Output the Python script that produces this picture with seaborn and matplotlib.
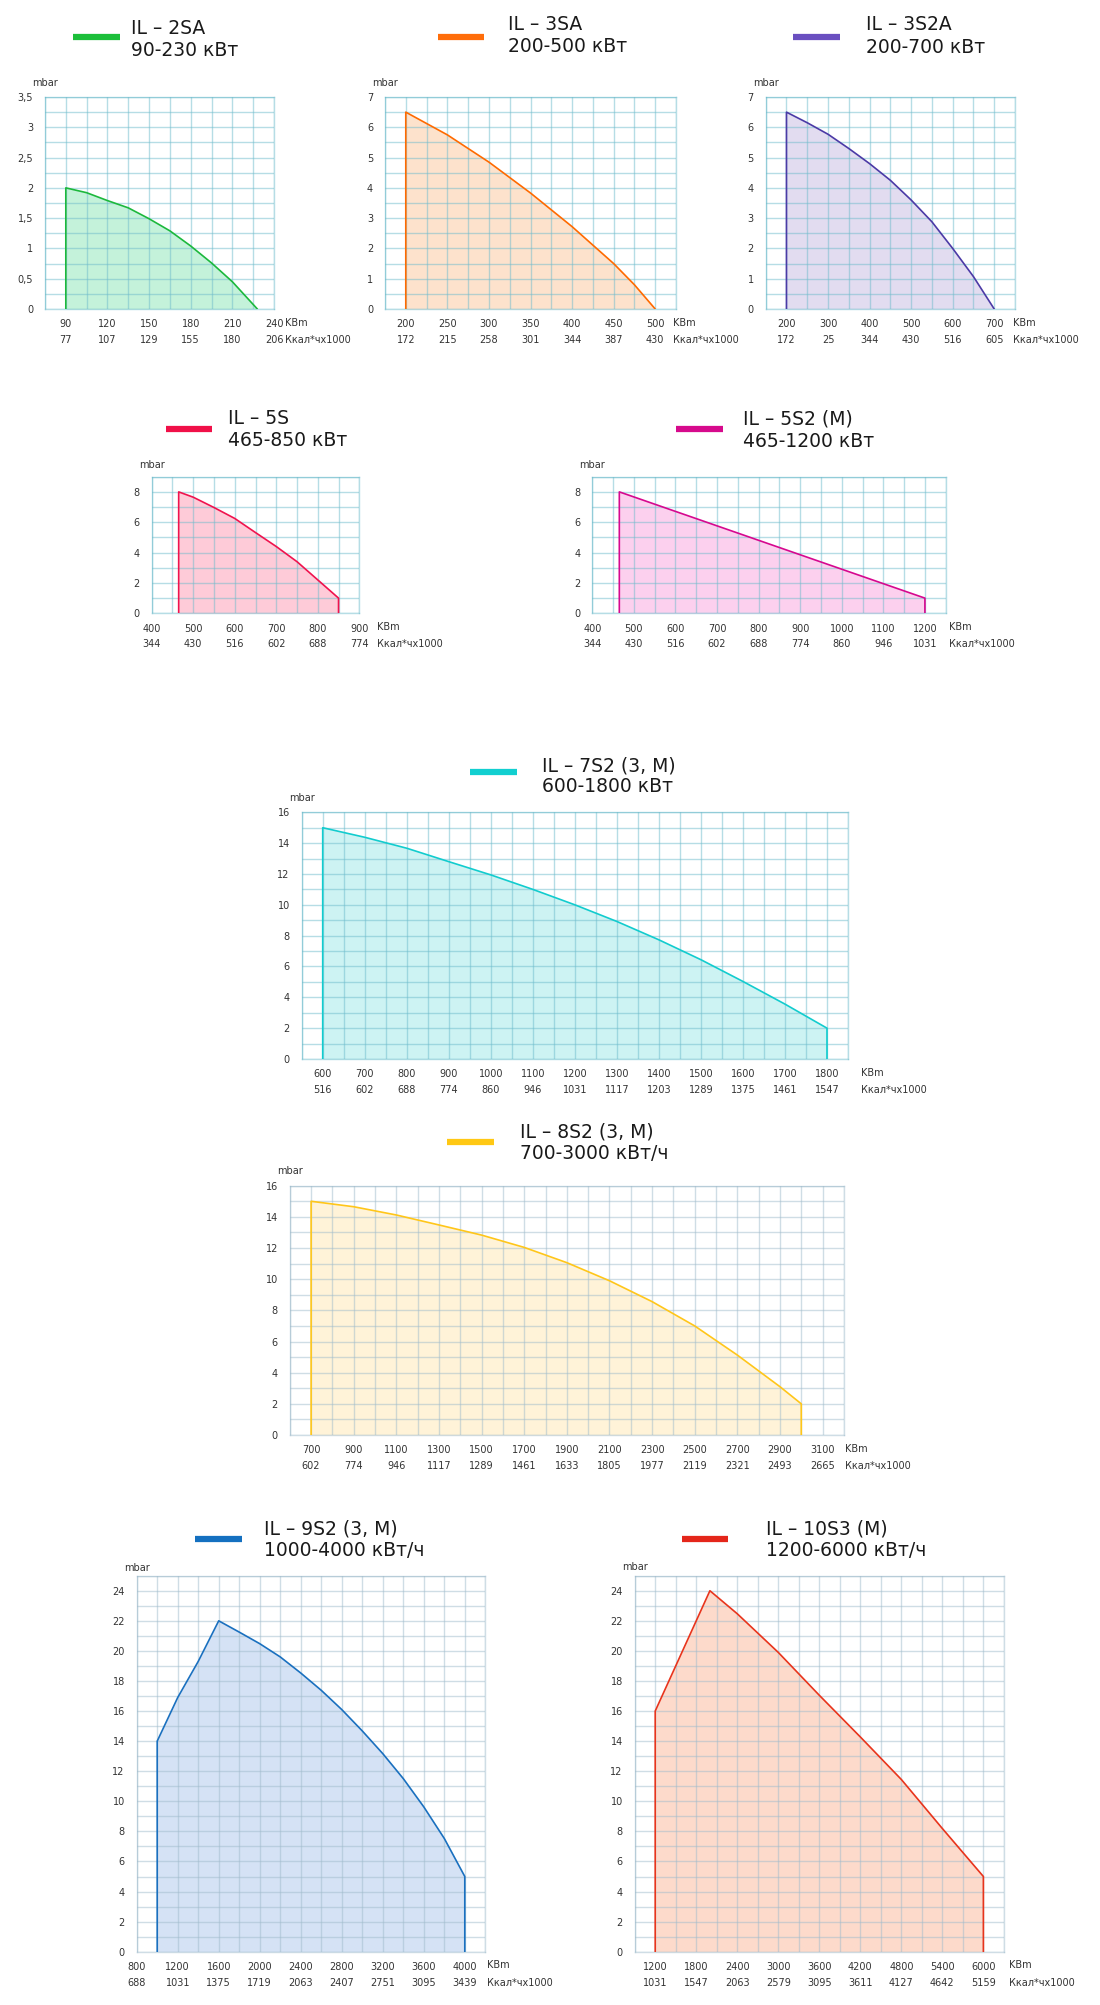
import numpy as np
import matplotlib
matplotlib.use("Agg")
import matplotlib.pyplot as plt
from matplotlib.lines import Line2D
import seaborn as sns

# ---- data ----
names = ["IL – 2SA", "IL – 3SA", "IL – 3S2A", "IL – 5S", "IL – 5S2 (M)",
         "IL – 7S2 (3, M)", "IL – 8S2 (3, M)", "IL – 9S2 (3, M)", "IL – 10S3 (M)"]
ranges = ["90-230 кВт", "200-500 кВт", "200-700 кВт", "465-850 кВт", "465-1200 кВт",
          "600-1800 кВт", "700-3000 кВт/ч", "1000-4000 кВт/ч", "1200-6000 кВт/ч"]

x_2sa = [90, 90, 105, 120, 135, 150, 165, 180, 195, 210, 228]
y_2sa = [0, 2.0, 1.92, 1.79, 1.67, 1.49, 1.29, 1.04, 0.76, 0.45, 0]

x_3sa = [200, 200, 250, 300, 350, 400, 450, 475, 500]
y_3sa = [0, 6.5, 5.75, 4.85, 3.83, 2.72, 1.5, 0.8, 0]

x_3s2a = [200, 200, 250, 300, 350, 400, 450, 500, 550, 600, 650, 700]
y_3s2a = [0, 6.5, 6.15, 5.77, 5.3, 4.8, 4.25, 3.6, 2.88, 2.0, 1.07, 0]

x_5s = [465, 465, 500, 550, 600, 650, 700, 750, 800, 850, 850]
y_5s = [0, 8, 7.65, 6.97, 6.25, 5.32, 4.4, 3.4, 2.2, 1.0, 0]

x_5s2 = [465, 465, 1200, 1200]
y_5s2 = [0, 8, 1, 0]

x_7s2 = [600, 600, 700, 800, 900, 1000, 1100, 1200, 1300, 1400, 1500, 1600, 1700, 1800, 1800]
y_7s2 = [0, 15, 14.38, 13.67, 12.8, 11.94, 11.0, 10.0, 8.92, 7.73, 6.44, 5.03, 3.56, 2.0, 0]

x_8s2 = [700, 700, 900, 1100, 1300, 1500, 1700, 1900, 2100, 2300, 2500, 2700, 2900, 3000, 3000]
y_8s2 = [0, 15, 14.65, 14.12, 13.48, 12.83, 12.04, 11.06, 9.9, 8.56, 7.0, 5.13, 3.1, 2.0, 0]

x_9s2 = [1000, 1000, 1200, 1400, 1600, 1800, 2000, 2200, 2400, 2600, 2800, 3000,
         3200, 3400, 3600, 3800, 4000, 4000]
y_9s2 = [0, 14, 16.9, 19.3, 22, 21.25, 20.48, 19.6, 18.53, 17.38, 16.1, 14.68,
         13.17, 11.51, 9.63, 7.53, 5, 0]

x_10s3 = [1200, 1200, 2000, 2400, 3000, 3600, 4200, 4800, 5400, 6000, 6000]
y_10s3 = [0, 16, 24, 22.47, 19.9, 17.05, 14.28, 11.45, 8.19, 5, 0]

kw_ticks = [
    [90, 120, 150, 180, 210, 240],
    [200, 250, 300, 350, 400, 450, 500],
    [200, 300, 400, 500, 600, 700],
    [400, 500, 600, 700, 800, 900],
    [400, 500, 600, 700, 800, 900, 1000, 1100, 1200],
    [600, 700, 800, 900, 1000, 1100, 1200, 1300, 1400, 1500, 1600, 1700, 1800],
    [700, 900, 1100, 1300, 1500, 1700, 1900, 2100, 2300, 2500, 2700, 2900, 3100],
    [800, 1200, 1600, 2000, 2400, 2800, 3200, 3600, 4000],
    [1200, 1800, 2400, 3000, 3600, 4200, 4800, 5400, 6000],
]
kcal_labels = [
    [77, 107, 129, 155, 180, 206],
    [172, 215, 258, 301, 344, 387, 430],
    [172, 25, 344, 430, 516, 605],
    [344, 430, 516, 602, 688, 774],
    [344, 430, 516, 602, 688, 774, 860, 946, 1031],
    [516, 602, 688, 774, 860, 946, 1031, 1117, 1203, 1289, 1375, 1461, 1547],
    [602, 774, 946, 1117, 1289, 1461, 1633, 1805, 1977, 2119, 2321, 2493, 2665],
    [688, 1031, 1375, 1719, 2063, 2407, 2751, 3095, 3439],
    [1031, 1547, 2063, 2579, 3095, 3611, 4127, 4642, 5159],
]
y_ticks = [
    [0, 0.5, 1, 1.5, 2, 2.5, 3, 3.5],
    [0, 1, 2, 3, 4, 5, 6, 7],
    [0, 1, 2, 3, 4, 5, 6, 7],
    [0, 2, 4, 6, 8],
    [0, 2, 4, 6, 8],
    [0, 2, 4, 6, 8, 10, 12, 14, 16],
    [0, 2, 4, 6, 8, 10, 12, 14, 16],
    [0, 2, 4, 6, 8, 10, 12, 14, 16, 18, 20, 22, 24],
    [0, 2, 4, 6, 8, 10, 12, 14, 16, 18, 20, 22, 24],
]

curves = [(x_2sa, y_2sa), (x_3sa, y_3sa), (x_3s2a, y_3s2a), (x_5s, y_5s), (x_5s2, y_5s2),
          (x_7s2, y_7s2), (x_8s2, y_8s2), (x_9s2, y_9s2), (x_10s3, y_10s3)]

# ---- style / layout (pixels) ----
line_c = ['#1cb83c', '#ff6a00', '#4b3aa6', '#f0134e', '#d6088f', '#12ccce', '#ffc61a', '#1a70bf', '#e8341c']
bar_c = ['#1cbf3a', '#ff6d0a', '#6a4fc0', '#f01048', '#d60a8c', '#12cfd0', '#ffc814', '#1470c0', '#e4261a']
fill_c = ['#c4f2da', '#fde2cc', '#e2dcf0', '#fecbd8', '#fcd0ee', '#cdf3f3', '#fff3d8', '#d5e2f5', '#fddacb']
grid_c = ['#6fbccc'] * 6 + ['#a0bccc'] * 3
tick_c = ['#f08a8a'] * 6 + ['#f58a6e'] * 3

boxes = [(45, 97, 274, 309), (385, 97, 676, 309), (765.7, 97, 1015, 309),
         (151.7, 476.7, 359.3, 613.3), (592.3, 476.7, 945.7, 613.3),
         (301.7, 812.3, 848, 1059), (289.8, 1185.7, 843.9, 1435),
         (136.7, 1575.7, 485.3, 1951.7), (634.7, 1575.7, 1003.9, 1951.7)]
xlims = [(75, 240), (175, 525), (150, 750), (400, 900), (400, 1250),
         (550, 1850), (600, 3200), (800, 4200), (900, 6300)]
ylims = [(0, 3.5), (0, 7), (0, 7), (0, 9), (0, 9), (0, 16), (0, 16), (0, 25), (0, 25)]
xsteps = [15, 25, 50, 50, 50, 50, 100, 200, 300]
ysteps = [0.25, 0.5, 0.5, 1, 1, 1, 1, 1, 1]
# legend bar (x0, x1, y), title text (x, y1, y2), mbar y, unit x
bars = [(73, 120, 37), (437.7, 484.3, 36.7), (793.3, 840, 36.7), (165.7, 212.3, 429.3),
        (676, 723.3, 429.3), (469.7, 516.5, 772.3), (446.6, 494, 1142.3),
        (195.2, 241.7, 1539.3), (681.6, 728, 1539.3)]
titles = [(131, 28, 50), (508.3, 24.5, 47), (865.7, 25, 47.3), (227.7, 418.3, 440.7),
          (742.7, 419.3, 441.7), (541.9, 765.5, 787), (520.2, 1131.7, 1153.3),
          (264.3, 1529.3, 1551), (765.9, 1529.3, 1551)]
mbar_y = [83, 83.3, 83, 465, 465, 798.3, 1171, 1568.3, 1566.7]
unit_x = [285, 673.3, 1013.3, 376.7, 949.3, 860.5, 844.7, 487, 1009.4]

W, H = 1100, 2005
sns.set_style("white")
plt.rcParams['font.family'] = ['DejaVu Sans']

fig = plt.figure(figsize=(W / 100, H / 100), dpi=100)


def fx(px):
    return px / W


def fy(py):
    return 1 - py / H


txt = '#333333'
for i, (xs, ys) in enumerate(curves):
    l, t, r, b = boxes[i]
    ax = fig.add_axes([fx(l), fy(b), (r - l) / W, (b - t) / H])
    ax.set_axisbelow('line')
    ax.fill_between(xs, ys, 0, color=fill_c[i], lw=0, zorder=1)
    sns.lineplot(x=xs, y=ys, sort=False, estimator=None, color=line_c[i], lw=1.2, ax=ax, zorder=3)

    x0, x1 = xlims[i]
    y0, y1 = ylims[i]
    ax.set_xlim(x0, x1)
    ax.set_ylim(y0, y1)
    ax.set_xticks(kw_ticks[i])
    ax.set_xticklabels([str(v) for v in kw_ticks[i]])
    ax.set_xticks(np.arange(x0, x1 + xsteps[i] / 2, xsteps[i]), minor=True)
    ax.set_yticks(y_ticks[i])
    ax.set_yticklabels([('%g' % v).replace('.', ',') for v in y_ticks[i]])
    ax.set_yticks(np.arange(y0, y1 + ysteps[i] / 2, ysteps[i]), minor=True)
    ax.grid(which='both', color=grid_c[i], alpha=0.5, lw=1, zorder=2)
    ax.tick_params(which='major', color=tick_c[i], length=5, width=1.2,
                   labelsize=7, labelcolor=txt)
    ax.tick_params(axis='x', which='major', pad=2.4)
    ax.tick_params(axis='y', which='major', pad=3.6)
    ax.tick_params(which='minor', length=0)
    for sp in ax.spines.values():
        sp.set_color(grid_c[i])
        sp.set_alpha(0.5)
        sp.set_linewidth(1)
    ax.set_xlabel('')
    ax.set_ylabel('')

    for v, lab in zip(kw_ticks[i], kcal_labels[i]):
        ax.annotate(str(lab), xy=(v, 0), xycoords=('data', 'axes fraction'),
                    xytext=(0, -31 * 0.72), textcoords='offset points',
                    ha='center', va='center', fontsize=7, color=txt)

    fig.text(fx(unit_x[i]), fy(b + 13.7), 'KBm', ha='left', va='center', fontsize=7, color=txt)
    fig.text(fx(unit_x[i]), fy(b + 31), 'Ккал*чх1000', ha='left', va='center', fontsize=7, color=txt)
    fig.text(fx(l - 13), fy(mbar_y[i]), 'mbar', ha='left', va='center', fontsize=7, color=txt)

    bx0, bx1, by = bars[i]
    fig.add_artist(Line2D([fx(bx0), fx(bx1)], [fy(by), fy(by)], color=bar_c[i],
                          lw=4.5, solid_capstyle='butt'))
    tx, ty1, ty2 = titles[i]
    fig.text(fx(tx), fy(ty1), names[i], ha='left', va='center', fontsize=13.5, color='#1a1a1a')
    fig.text(fx(tx), fy(ty2), ranges[i], ha='left', va='center', fontsize=13.5, color='#1a1a1a')

fig.savefig('out.png', dpi=100, facecolor='white')
